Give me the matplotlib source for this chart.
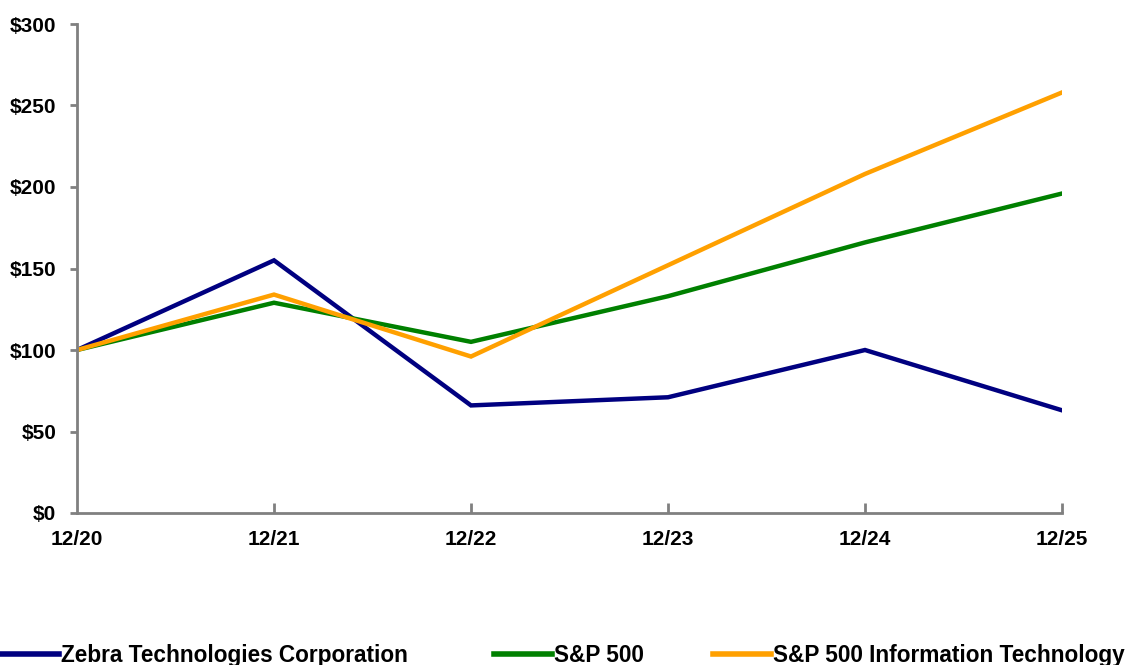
import matplotlib
matplotlib.use("Agg")
import matplotlib.pyplot as plt
from matplotlib.lines import Line2D

periods = ["12/20", "12/21", "12/22", "12/23", "12/24", "12/25"]
zebra = [100, 155, 66, 71, 100, 63]
sp500 = [100, 129, 105, 133, 166, 196]
sp_it = [100, 134, 96, 152, 208, 258]
series_names = ["Zebra Technologies Corporation", "S&P 500", "S&P 500 Information Technology"]
yticks = [0, 50, 100, 150, 200, 250, 300]

plt.rcParams['font.family'] = ['Liberation Sans', 'DejaVu Sans']

fig = plt.figure(figsize=(11.31, 6.65), dpi=100)
ax = fig.add_axes([77/1131, 1-513/665, (1062-77)/1131, (513-24)/665])

x = list(range(len(periods)))
colors = ["#000080", "#008000", "#FFA000"]
lines = []
for vals, c, n in zip([zebra, sp500, sp_it], colors, series_names):
    ln, = ax.plot(x, vals, color=c, lw=3.2, label=n, solid_joinstyle='miter')
    lines.append(ln)

ax.set_xlim(0, len(periods)-1)
ax.set_ylim(0, 300)
ax.set_yticks(yticks)
ax.set_yticklabels([f"${v}" for v in yticks], fontsize=15, fontweight='bold')
ax.set_xticks(x)
ax.set_xticklabels(periods, fontsize=15, fontweight='bold')
for s in ['top', 'right']:
    ax.spines[s].set_visible(False)
for s in ['left', 'bottom']:
    ax.spines[s].set_color('#808080')
    ax.spines[s].set_linewidth(2)
ax.tick_params(axis='y', direction='out', length=5, width=2, color='#808080', pad=10)
ax.tick_params(axis='x', direction='in', length=7, width=2, color='#808080', pad=12)
ax.xaxis.get_majorticklines()[0].set_visible(False)

anchors = [-0.0072, 493/1131 - 0.0072, 712/1131 - 0.0072]
for ln, n, a in zip(lines, series_names, anchors):
    fig.legend([Line2D([], [], color=ln.get_color(), lw=4)], [n], loc='lower left',
               bbox_to_anchor=(a, -0.016), frameon=False, borderaxespad=0,
               handlelength=2.55, handletextpad=0.12,
               prop={'weight': 'bold', 'size': 16.3})
fig.savefig("out.png", dpi=100)
